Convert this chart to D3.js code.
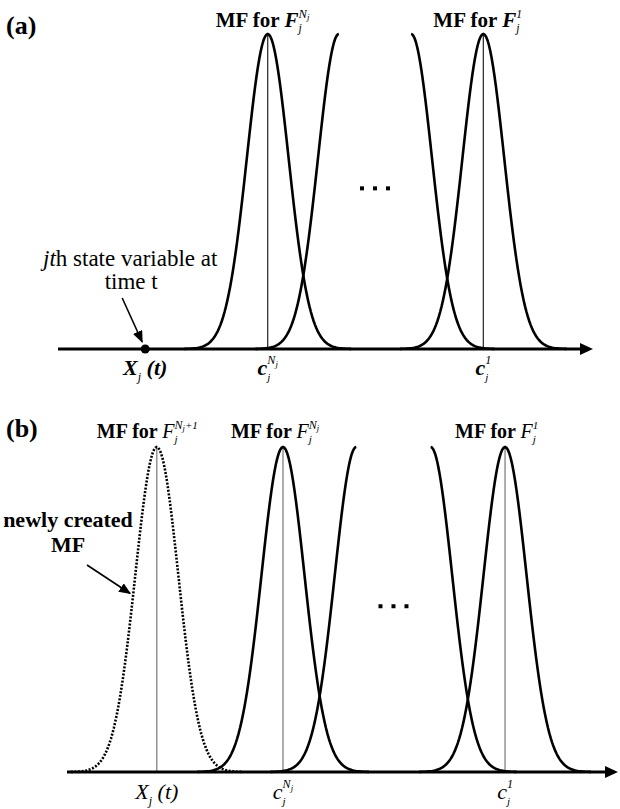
<!DOCTYPE html>
<html>
<head>
<meta charset="utf-8">
<script src="https://cdn.jsdelivr.net/npm/d3@7"></script>
</head>
<body style="margin:0;background:#fff">
<script>
// values (input axis in arbitrary units 0..10)
var panelNames = ["(a)", "(b)"];
var stateX = 1.63;                       // X_j(t)
var centers = [3.92, 5.25, 6.6, 7.95];   // MF centres, c_j^{N_j} ... c_j^1
var mfParts = ["full", "left", "right", "full"];
var sigma = 0.39;

var SERIF = "Liberation Serif";

var svg = d3.select("body").append("svg")
	.attr("width", 620)
	.attr("height", 809)
	.style("display", "block");

// arrow heads
svg.append("defs").append("marker")
	.attr("id", "head")
	.attr("viewBox", "0 0 12 10")
	.attr("refX", 11)
	.attr("refY", 5)
	.attr("markerWidth", 12)
	.attr("markerHeight", 10)
	.attr("markerUnits", "userSpaceOnUse")
	.attr("orient", "auto")
	.append("path")
	.attr("d", "M0,0 L12,5 L0,10 Z")
	.attr("fill", "#000");

function gauss(x, c) {
	return Math.exp(-(x - c) * (x - c) / (2 * sigma * sigma));
}

function curvePoints(c, part) {
	var a = part == "right" ? c : c - 4 * sigma;
	var b = part == "left" ? c : c + 4 * sigma;
	a = Math.max(a, 0);
	return d3.range(0, 121).map(function(i) {
		var x = a + (b - a) * i / 120;
		return [x, gauss(x, c)];
	});
}

// text with stacked sub/superscripts; off = offset from baseline
function mathText(g, x, y, segs, anchor) {
	var t = g.append("text")
		.attr("x", x)
		.attr("y", y)
		.attr("text-anchor", anchor || "middle")
		.style("font-family", SERIF)
		.attr("fill", "#000");
	var cur = 0, prev = null;
	segs.forEach(function(s) {
		var off = s.off || 0;
		var ts = t.append("tspan")
			.text(s.t)
			.attr("font-size", s.size)
			.attr("font-style", s.italic ? "italic" : "normal")
			.attr("font-weight", s.bold ? "bold" : "normal")
			.attr("dy", off - cur);
		if (s.back && prev) {
			ts.attr("dx", -prev.node().getComputedTextLength());
		}
		cur = off;
		prev = ts;
	});
	return t;
}

function drawPanel(p) {
	var g = svg.append("g");
	var x = d3.scaleLinear().domain([0, 10]).range([p.x0, p.x1]);
	var y = d3.scaleLinear().domain([0, 1]).range([p.axisY, p.peakY]);
	var line = d3.line()
		.x(function(d) { return x(d[0]); })
		.y(function(d) { return y(d[1]); });
	var bold = p.boldMath;

	// centre lines
	var vl = p.newMF ? [stateX, centers[0], centers[3]] : [centers[0], centers[3]];
	g.selectAll("line.center")
		.data(vl)
		.enter()
		.append("line")
		.attr("class", "center")
		.attr("x1", function(d) { return x(d); })
		.attr("x2", function(d) { return x(d); })
		.attr("y1", y(1))
		.attr("y2", y(0))
		.attr("stroke", p.vColor)
		.attr("stroke-width", 1.2);

	// membership functions
	g.selectAll("path.mf")
		.data(centers)
		.enter()
		.append("path")
		.attr("class", "mf")
		.attr("d", function(d, i) { return line(curvePoints(d, mfParts[i])); })
		.attr("fill", "none")
		.attr("stroke", "#000")
		.attr("stroke-width", 2.6);

	if (p.newMF) {
		g.append("path")
			.attr("d", line(curvePoints(stateX, "full")))
			.attr("fill", "none")
			.attr("stroke", "#000")
			.attr("stroke-width", 2.6)
			.attr("stroke-dasharray", "2,1.6");
	}

	// axis with arrow
	g.append("line")
		.attr("x1", x(0))
		.attr("x2", x(10) - 8)
		.attr("y1", y(0))
		.attr("y2", y(0))
		.attr("stroke", "#000")
		.attr("stroke-width", 3);
	g.append("path")
		.attr("d", "M" + (x(10) - 13) + "," + (y(0) - 6) + " L" + x(10) + "," + y(0) + " L" + (x(10) - 13) + "," + (y(0) + 6) + " Z")
		.attr("fill", "#000");

	// ellipsis between the partial MFs
	var mid = (centers[1] + centers[2]) / 2;
	g.selectAll("rect.dot")
		.data([-1, 0, 1])
		.enter()
		.append("rect")
		.attr("class", "dot")
		.attr("x", function(d) { return x(mid) + d * 13 - 2; })
		.attr("y", y(0.51) - 2)
		.attr("width", 4)
		.attr("height", 4)
		.attr("fill", "#000");

	// panel name
	g.append("text")
		.attr("x", 6)
		.attr("y", p.nameY)
		.style("font-family", SERIF)
		.attr("font-size", 26)
		.attr("font-weight", "bold")
		.text(p.name);

	// titles above the MFs
	var ts = p.titleSize;
	function title(cx, sup) {
		var segs = [
			{t: "MF for ", size: ts, bold: true},
			{t: "F", size: ts, bold: bold, italic: true},
			{t: "j", size: ts * 0.55, italic: true, off: ts * 0.25}
		];
		if (sup == "1") {
			segs.push({t: "1", size: ts * 0.55, italic: true, off: -ts * 0.45, back: true});
		} else {
			segs.push({t: "N", size: ts * 0.6, italic: true, off: -ts * 0.45, back: true});
			segs.push({t: "j", size: ts * 0.42, italic: true, off: -ts * 0.33});
			if (sup == "N+1") segs.push({t: "+1", size: ts * 0.55, italic: true, off: -ts * 0.45});
		}
		mathText(g, cx, p.titleY, segs, "start");
	}
	if (p.newMF) title(x(stateX) - 60, "N+1");
	title(x(centers[0]) - 52, "N");
	title(x(centers[3]) - 50, "1");

	// labels under the axis
	var ls = p.labelSize;
	var ly = p.labelY;
	mathText(g, x(stateX), ly, [
		{t: "X", size: ls, italic: true, bold: bold},
		{t: "j", size: ls * 0.55, italic: true, off: ls * 0.25},
		{t: " (t)", size: ls, italic: true, bold: bold, off: 0}
	]);
	mathText(g, x(centers[0]), ly, [
		{t: "c", size: ls, italic: true, bold: bold},
		{t: "j", size: ls * 0.5, italic: true, off: ls * 0.25},
		{t: "N", size: ls * 0.55, italic: true, off: -ls * 0.5, back: true},
		{t: "j", size: ls * 0.4, italic: true, off: -ls * 0.38}
	]);
	mathText(g, x(centers[3]), ly, [
		{t: "c", size: ls, italic: true, bold: bold},
		{t: "j", size: ls * 0.5, italic: true, off: ls * 0.25},
		{t: "1", size: ls * 0.55, italic: true, off: -ls * 0.5, back: true}
	]);

	return {x: x, y: y, g: g};
}

var pa = drawPanel({
	name: panelNames[0], nameY: 34, x0: 58, x1: 593, axisY: 349, peakY: 34,
	titleY: 27, titleSize: 21, labelY: 375, labelSize: 22,
	boldMath: true, newMF: false, vColor: "#222"
});

var pb = drawPanel({
	name: panelNames[1], nameY: 437, x0: 67, x1: 618, axisY: 772, peakY: 447,
	titleY: 438, titleSize: 20, labelY: 799, labelSize: 22,
	boldMath: false, newMF: true, vColor: "#777"
});

// (a) annotation: state variable on the axis
var ax = pa.x(stateX), ay = pa.y(0);
pa.g.append("circle")
	.attr("cx", ax)
	.attr("cy", ay)
	.attr("r", 4.5)
	.attr("fill", "#000");
var note = pa.g.append("text")
	.attr("x", ax - 15)
	.attr("y", 266)
	.attr("text-anchor", "middle")
	.style("font-family", SERIF)
	.attr("font-size", 23);
note.append("tspan").attr("font-style", "italic").text("jt");
note.append("tspan").text("h state variable at");
pa.g.append("text")
	.attr("x", ax - 14)
	.attr("y", 289)
	.attr("text-anchor", "middle")
	.style("font-family", SERIF)
	.attr("font-size", 23)
	.text("time t");
pa.g.append("line")
	.attr("x1", ax - 23)
	.attr("y1", ay - 51)
	.attr("x2", ax - 3)
	.attr("y2", ay - 7)
	.attr("stroke", "#000")
	.attr("stroke-width", 1.6)
	.attr("marker-end", "url(#head)");

// (b) annotation: newly created MF
pb.g.append("text")
	.attr("x", 68)
	.attr("y", 527)
	.attr("text-anchor", "middle")
	.style("font-family", SERIF)
	.attr("font-size", 22)
	.attr("font-weight", "bold")
	.text("newly created");
pb.g.append("text")
	.attr("x", 68)
	.attr("y", 552)
	.attr("text-anchor", "middle")
	.style("font-family", SERIF)
	.attr("font-size", 22)
	.attr("font-weight", "bold")
	.text("MF");
var tx = pb.x(stateX - 1.1 * sigma), ty = pb.y(gauss(stateX - 1.1 * sigma, stateX));
pb.g.append("line")
	.attr("x1", 87)
	.attr("y1", 565)
	.attr("x2", tx - 3)
	.attr("y2", ty - 1)
	.attr("stroke", "#000")
	.attr("stroke-width", 1.6)
	.attr("marker-end", "url(#head)");
</script>
</body>
</html>
